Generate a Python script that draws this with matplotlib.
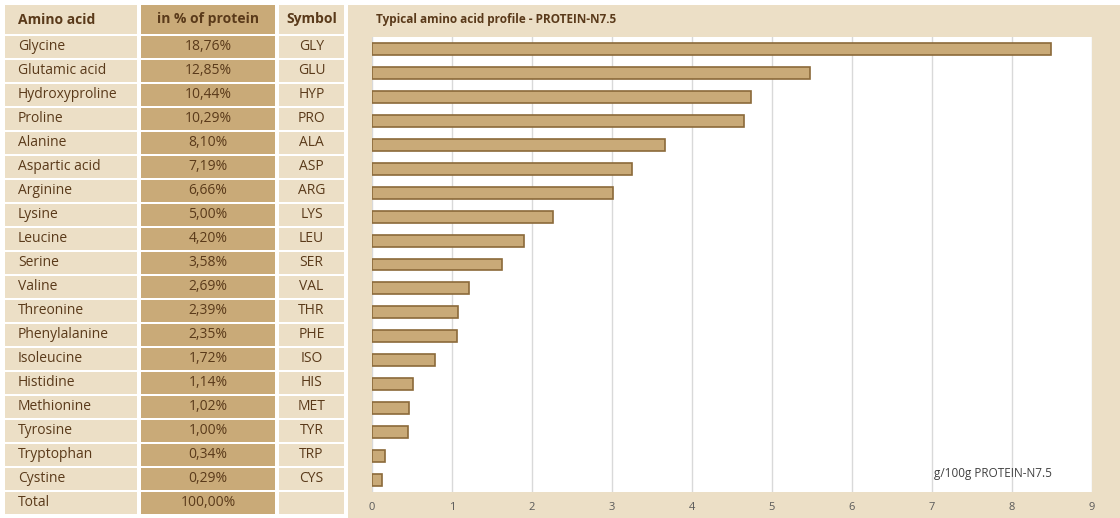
import numpy as np
import matplotlib.pyplot as plt
from matplotlib.patches import Rectangle

names = ['Glycine', 'Glutamic acid', 'Hydroxyproline', 'Proline', 'Alanine', 'Aspartic acid',
         'Arginine', 'Lysine', 'Leucine', 'Serine', 'Valine', 'Threonine', 'Phenylalanine',
         'Isoleucine', 'Histidine', 'Methionine', 'Tyrosine', 'Tryptophan', 'Cystine']
percent = ['18,76%', '12,85%', '10,44%', '10,29%', '8,10%', '7,19%', '6,66%', '5,00%', '4,20%',
           '3,58%', '2,69%', '2,39%', '2,35%', '1,72%', '1,14%', '1,02%', '1,00%', '0,34%', '0,29%']
symbols = ['GLY', 'GLU', 'HYP', 'PRO', 'ALA', 'ASP', 'ARG', 'LYS', 'LEU', 'SER', 'VAL', 'THR',
           'PHE', 'ISO', 'HIS', 'MET', 'TYR', 'TRP', 'CYS']
grams = [8.49, 5.48, 4.74, 4.65, 3.66, 3.25, 3.01, 2.26, 1.90, 1.63, 1.21, 1.08, 1.06,
         0.79, 0.51, 0.46, 0.45, 0.16, 0.13]

light = '#ecdfc6'
dark = '#c9aa78'
txt = '#5a3a1a'
plt.rcParams['font.family'] = ['Open Sans', 'DejaVu Sans']

W, H = 1120, 518
fig = plt.figure(figsize=(W / 100, H / 100), dpi=100)
fig.patch.set_facecolor('white')

# table drawn in pixel coordinates
tab = fig.add_axes([0, 0, 1, 1])
tab.set_xlim(0, W)
tab.set_ylim(H, 0)
tab.axis('off')
cols = [(5, 137, light, 'left'), (141, 275, dark, 'center'), (279, 344, light, 'center')]

def row(y0, h, texts, bold=False):
    for (x0, x1, c, ha), t in zip(cols, texts):
        tab.add_patch(Rectangle((x0, y0), x1 - x0, h, color=c, lw=0))
        tx = x0 + 13 if ha == 'left' else (x0 + x1) / 2
        tab.text(tx, y0 + h / 2, t, ha=ha, va='center', fontsize=10, color=txt,
                 fontweight='bold' if bold else 'normal')

row(5, 29, ['Amino acid', 'in % of protein', 'Symbol'], bold=True)
for i, (n, p, s) in enumerate(zip(names, percent, symbols)):
    row(36 + 24 * i, 22, [n, p, s])
row(36 + 24 * len(names), 22, ['Total', '100,00%', ''])

# chart panel
tab.add_patch(Rectangle((348, 5), W - 348, H - 5, color=light, lw=0))
tab.text(376, 19, 'Typical amino acid profile - PROTEIN-N7.5', ha='left', va='center',
         fontsize=8.5, fontweight='bold', color=txt)

ax = fig.add_axes([372 / W, (H - 492) / H, (1092 - 372) / W, (492 - 37) / H])
y = np.arange(len(grams))
ax.barh(y, grams, height=0.5, color=dark, edgecolor='#8b6a3a', lw=1.2, zorder=3)
ax.set_ylim(len(grams) - 0.5, -0.5)
ax.set_xlim(0, 9)
ax.set_xticks(range(10))
ax.set_yticks([])
ax.grid(axis='x', color='#d9d9d9', lw=1, zorder=0)
for sp in ax.spines.values():
    sp.set_visible(False)
ax.tick_params(axis='x', length=0, labelsize=8, labelcolor='#595959', pad=7)
ax.text(0.78, 0.04, 'g/100g PROTEIN-N7.5', transform=ax.transAxes, fontsize=8.5,
        color='#404040', ha='left', va='center')

fig.savefig('out.png', dpi=100, facecolor=fig.get_facecolor())
